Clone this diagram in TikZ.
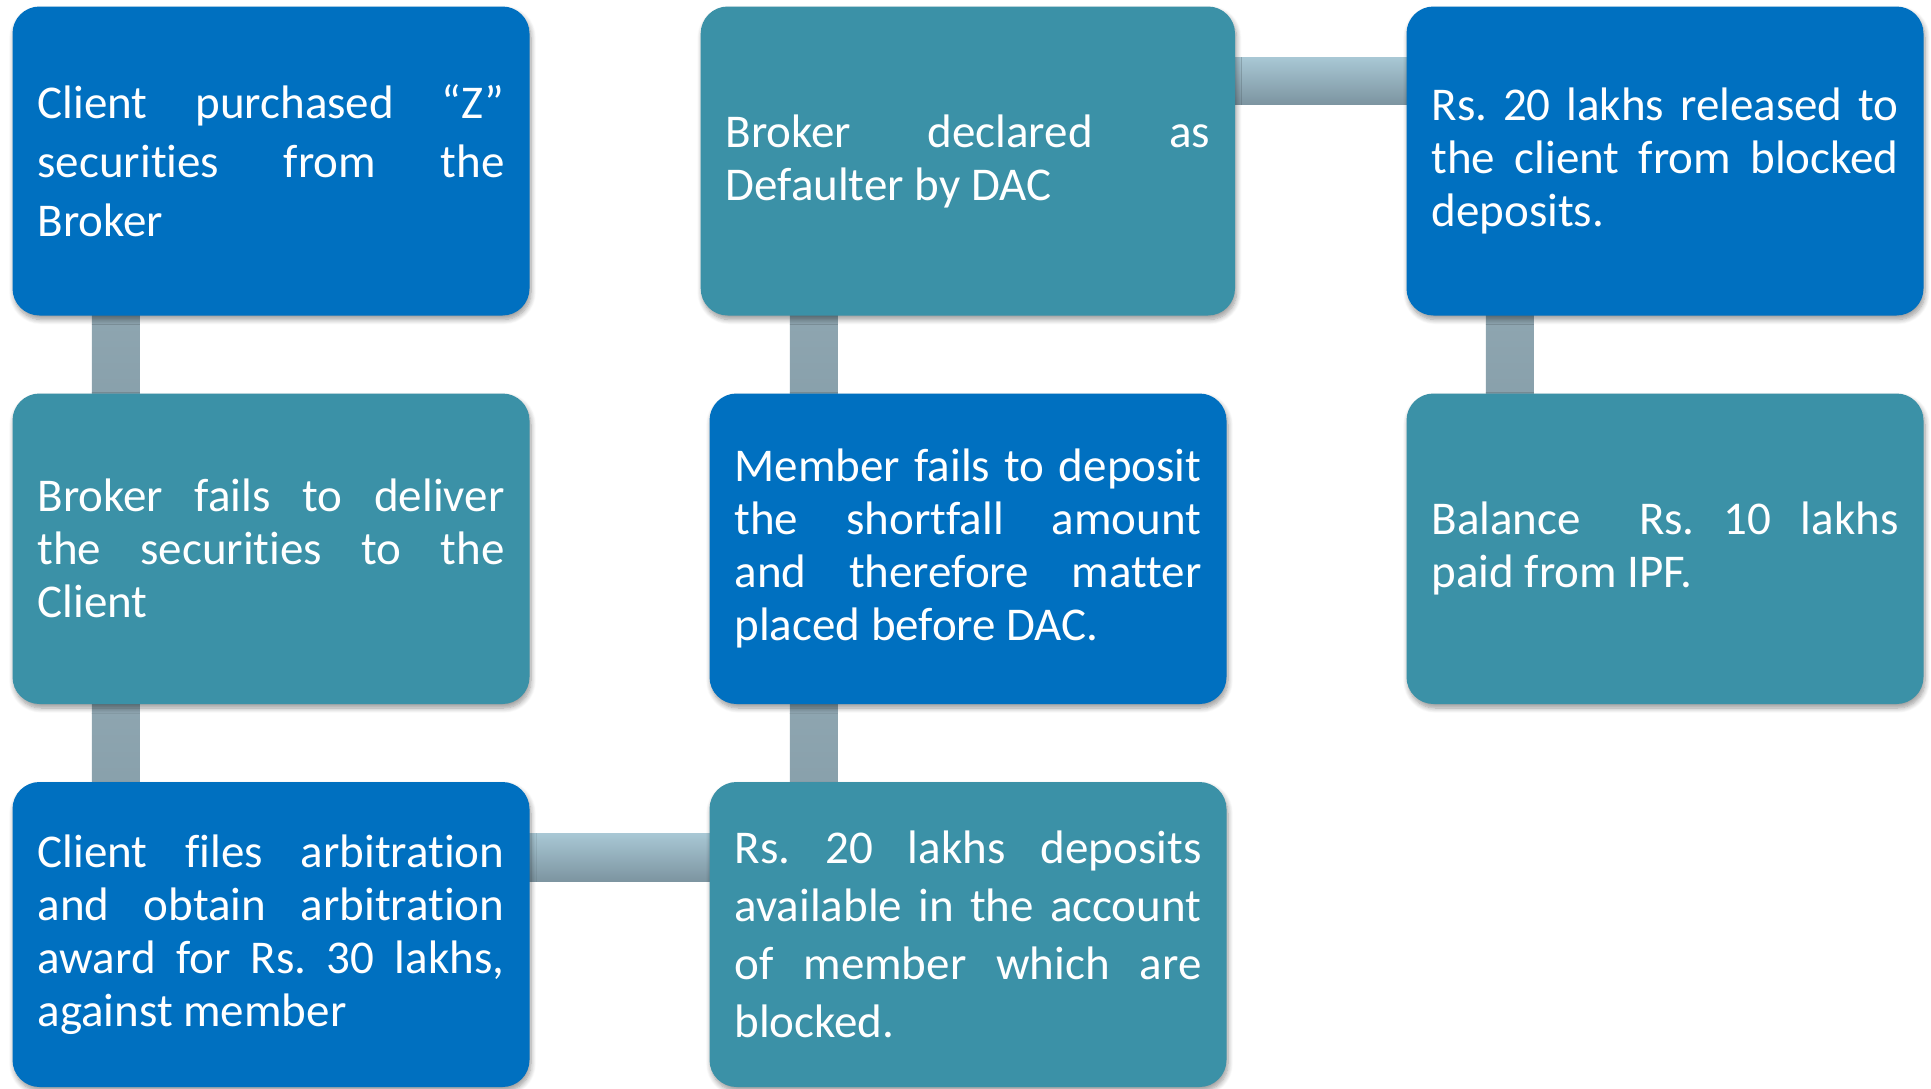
\documentclass[tikz,border=0pt]{standalone}
\usepackage{fontspec}
\setmainfont{Carlito}[Ligatures={NoCommon,NoContextual}]
\usetikzlibrary{calc,backgrounds,shadows.blur}

\definecolor{cardblue}{RGB}{0,112,192}
\definecolor{cardteal}{RGB}{59,145,167}
\definecolor{vbartop}{RGB}{143,166,177}
\definecolor{vbarbot}{RGB}{136,160,171}
\definecolor{hbartop}{RGB}{168,199,212}
\definecolor{hbarbot}{RGB}{124,148,160}

\begin{document}
\frenchspacing
\begin{tikzpicture}[x=1pt,y=-1pt,
  card/.style={rectangle, rounded corners=27pt, inner sep=0pt, text=white,
    align=justify, minimum width=517pt, text width=467pt,
    execute at begin node={\frenchspacing\tolerance=10000\hyphenpenalty=10000},
    blur shadow={shadow xshift=1.5pt, shadow yshift=-4pt,
      shadow blur radius=5pt, shadow blur steps=8, shadow opacity=40}},
  blue card/.style={card, fill=cardblue},
  teal card/.style={card, fill=cardteal},
  toprow/.style={minimum height=309pt},
  midrow/.style={minimum height=310.5pt},
  lowrow/.style={minimum height=305pt},
  txt/.style={font={\fontsize{47pt}{53pt}\selectfont}},
  vbar/.style={top color=vbartop, bottom color=vbarbot},
  hbar/.style={top color=hbartop, bottom color=hbarbot}
]
\useasboundingbox (0,0) rectangle (1931,1088);

% left column
\node[blue card, toprow, font={\fontsize{47pt}{59pt}\selectfont}] (A) at (271,161)
  {Client purchased “Z”\linebreak securities from the\linebreak Broker};
\node[teal card, midrow, txt] (B) at (271,548.75)
  {Broker fails to deliver\linebreak the securities to the\linebreak Client};
\node[blue card, lowrow, txt] (C) at (271,934.5)
  {Client files arbitration\linebreak and obtain arbitration\linebreak award for Rs. 30 lakhs,\linebreak against member};

% middle column
\node[teal card, toprow, txt, minimum width=534.3pt, text width=484.3pt] (D) at (967.85,161)
  {Broker declared as\linebreak Defaulter by DAC};
\node[blue card, midrow, txt] (E) at (968,548.75)
  {Member fails to deposit\linebreak the shortfall amount\linebreak and therefore matter\linebreak placed before DAC.};
\node[teal card, lowrow, font={\fontsize{47pt}{58pt}\selectfont}] (F) at (968,934.5)
  {Rs. 20 lakhs deposits\linebreak available in the account\linebreak of member which are\linebreak blocked.};

% right column
\node[blue card, toprow, txt] (G) at (1665,161)
  {Rs. 20 lakhs released to\linebreak the client from blocked\linebreak deposits.};
\node[teal card, midrow, txt] (H) at (1665,548.75)
  {Balance\ \ Rs. 10 lakhs\linebreak paid from IPF.};

% connecting bars, behind the cards
\begin{pgfonlayer}{background}
  \fill[vbar] ($(A.south west)+(79.5,-10)$) rectangle ($(B.north west)+(127.5,10)$);
  \fill[vbar] ($(B.south west)+(79.5,-10)$) rectangle ($(C.north west)+(127.5,10)$);
  \fill[hbar] ($(C.north east)+(-10,52)$) rectangle ($(F.north west)+(10,100)$);
  \fill[vbar] ($(D.south west)+(89.3,-10)$) rectangle ($(E.north west)+(128.5,10)$);
  \fill[vbar] ($(E.south west)+(80.5,-10)$) rectangle ($(F.north west)+(128.5,10)$);
  \fill[hbar] ($(D.north east)+(-10,51.5)$) rectangle ($(G.north west)+(10,98.5)$);
  \fill[vbar] ($(G.south west)+(79.5,-10)$) rectangle ($(H.north west)+(127.5,10)$);
\end{pgfonlayer}
\end{tikzpicture}
\end{document}
